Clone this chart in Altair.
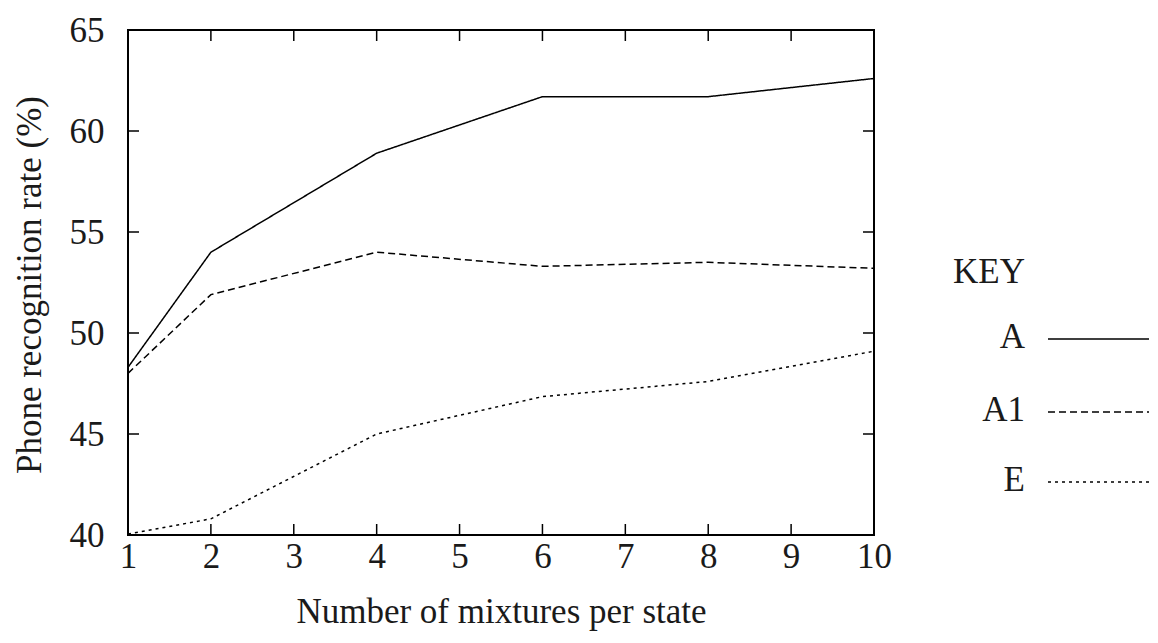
import altair as alt
import pandas as pd

mixtures = [1, 2, 4, 6, 8, 10]
series_a = [48.3, 54.0, 58.9, 61.7, 61.7, 62.6]
series_a1 = [48.0, 51.9, 54.0, 53.3, 53.5, 53.2]
series_e = [40.05, 40.8, 45.0, 46.85, 47.6, 49.1]
series_names = ["A", "A1", "E"]
x_ticks = list(range(1, 11))
y_ticks = [40, 45, 50, 55, 60, 65]
x_title = "Number of mixtures per state"
y_title = "Phone recognition rate (%)"
key_title = "KEY"

rows = []
for name, vals in zip(series_names, [series_a, series_a1, series_e]):
    for xv, yv in zip(mixtures, vals):
        rows.append({"x": xv, "y": yv, "series": name})
df = pd.DataFrame(rows)
xt = pd.DataFrame({"x": x_ticks})
yt = pd.DataFrame({"y": y_ticks})

W, H = 746, 505
FONT = "Liberation Serif"
FS = 35
TXT = "#1a1a1a"
dashes = [[1, 0], [7, 4], [3, 4]]

xscale = alt.Scale(domain=[1, 10], nice=False, zero=False)
yscale = alt.Scale(domain=[40, 65], nice=False, zero=False)

lines = alt.Chart(df).mark_line(color="black", strokeWidth=1.5).encode(
    x=alt.X("x:Q", scale=xscale,
            axis=alt.Axis(values=x_ticks, ticks=False, domain=False, grid=False,
                          labelFont=FONT, labelFontSize=FS, labelColor=TXT,
                          labelPadding=4, format="d", labelFlush=False,
                          labelBound=False, labelOverlap=False,
                          title=x_title, titleFont=FONT, titleFontSize=FS,
                          titleFontWeight="normal", titleColor=TXT,
                          titleX=W / 2, titleY=76, titleBaseline="middle")),
    y=alt.Y("y:Q", scale=yscale,
            axis=alt.Axis(values=y_ticks, ticks=False, domain=False, grid=False,
                          labelFont=FONT, labelFontSize=FS, labelColor=TXT,
                          labelPadding=24, labelFlush=False, labelBound=False,
                          labelOverlap=False,
                          title=y_title, titleFont=FONT, titleFontSize=FS,
                          titleFontWeight="normal", titleColor=TXT,
                          titleAngle=-90, titleX=-99, titleY=H / 2 + 2,
                          titleAlign="center", titleBaseline="middle")),
    strokeDash=alt.StrokeDash("series:N",
                              scale=alt.Scale(domain=series_names, range=dashes),
                              legend=None),
    detail="series:N",
)

tick_len = 11
bx = alt.Chart(xt).mark_rule(color="black", strokeWidth=1.5).encode(
    x=alt.X("x:Q", scale=xscale), y=alt.value(H), y2=alt.value(H - tick_len))
tx = alt.Chart(xt).mark_rule(color="black", strokeWidth=1.5).encode(
    x=alt.X("x:Q", scale=xscale), y=alt.value(0), y2=alt.value(tick_len))
ly = alt.Chart(yt).mark_rule(color="black", strokeWidth=1.5).encode(
    y=alt.Y("y:Q", scale=yscale), x=alt.value(0), x2=alt.value(tick_len))
ry = alt.Chart(yt).mark_rule(color="black", strokeWidth=1.5).encode(
    y=alt.Y("y:Q", scale=yscale), x=alt.value(W), x2=alt.value(W - tick_len))

legend_layers = []
label_x = 897
legend_rows_y = [307, 380, 450]
legend_layers.append(
    alt.Chart(pd.DataFrame({"t": [key_title]})).mark_text(
        font=FONT, fontSize=FS, align="right", baseline="middle", color=TXT
    ).encode(text="t:N", x=alt.value(label_x), y=alt.value(242)))
for name, dash, yy in zip(series_names, dashes, legend_rows_y):
    d = pd.DataFrame({"t": [name]})
    legend_layers.append(
        alt.Chart(d).mark_text(font=FONT, fontSize=FS, align="right",
                               baseline="middle", color=TXT).encode(
            text="t:N", x=alt.value(label_x), y=alt.value(yy)))
    legend_layers.append(
        alt.Chart(d).mark_rule(color="black", strokeWidth=1.5, strokeDash=dash).encode(
            x=alt.value(920), x2=alt.value(1021), y=alt.value(yy + 2)))

chart = alt.layer(lines, bx, tx, ly, ry, *legend_layers).properties(
    width=W, height=H,
    autosize=alt.AutoSizeParams(type="none"),
    padding={"left": 120, "top": 22, "right": 276, "bottom": 98},
    background="white",
).configure_view(stroke="black", strokeWidth=2)

chart.save("out.html", embed_options={"renderer": "svg", "actions": False})
